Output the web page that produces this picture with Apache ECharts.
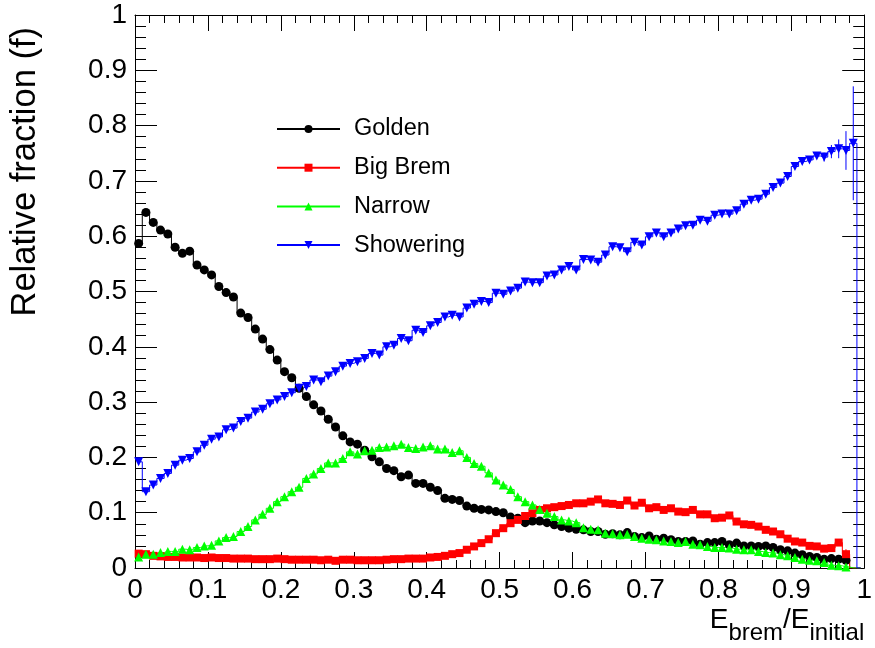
<!DOCTYPE html>
<html><head><meta charset="utf-8">
<script src="https://cdn.jsdelivr.net/npm/echarts@6/dist/echarts.min.js"></script>
<style>html,body{margin:0;padding:0;background:#fff}#c{width:875px;height:648px}</style>
</head><body><div id="c"></div>
<script>
// ---- data (100 bins of E_brem/E_initial, 0..1) ----
const nBins = 100, xMin = 0, xMax = 1;
const seriesNames = ['Golden', 'Big Brem', 'Narrow', 'Showering'];

const golden = [0.587,0.643,0.625,0.611,0.604,0.580,0.569,0.573,0.548,0.539,
0.530,0.509,0.498,0.490,0.461,0.453,0.432,0.414,0.395,0.376,
0.355,0.344,0.325,0.310,0.295,0.284,0.269,0.255,0.239,0.228,
0.224,0.213,0.201,0.192,0.180,0.176,0.165,0.168,0.153,0.153,
0.146,0.140,0.126,0.124,0.122,0.112,0.108,0.106,0.105,0.102,
0.100,0.092,0.090,0.082,0.085,0.085,0.082,0.078,0.075,0.072,
0.070,0.069,0.066,0.066,0.061,0.062,0.060,0.064,0.057,0.055,
0.058,0.052,0.054,0.051,0.048,0.048,0.049,0.043,0.046,0.046,
0.048,0.042,0.045,0.040,0.040,0.039,0.040,0.037,0.033,0.031,
0.027,0.024,0.021,0.019,0.016,0.017,0.016,0.014,0,0];

const bigBrem = [0.026,0.025,0.022,0.021,0.020,0.020,0.019,0.019,0.019,0.018,
0.019,0.018,0.018,0.017,0.017,0.017,0.016,0.016,0.016,0.017,
0.016,0.015,0.015,0.015,0.015,0.014,0.015,0.013,0.015,0.015,
0.014,0.014,0.014,0.014,0.015,0.016,0.016,0.017,0.017,0.017,
0.019,0.020,0.022,0.025,0.027,0.033,0.039,0.045,0.052,0.063,
0.072,0.081,0.087,0.094,0.099,0.105,0.108,0.110,0.112,0.114,
0.117,0.117,0.120,0.124,0.117,0.116,0.114,0.122,0.113,0.118,
0.108,0.110,0.105,0.108,0.102,0.101,0.105,0.097,0.097,0.090,
0.091,0.095,0.084,0.079,0.078,0.075,0.069,0.066,0.061,0.053,
0.048,0.046,0.040,0.039,0.035,0.036,0.046,0.025,0,0];

const narrow = [0.020,0.025,0.025,0.028,0.030,0.030,0.034,0.033,0.037,0.040,
0.041,0.049,0.055,0.057,0.066,0.075,0.087,0.097,0.108,0.120,
0.129,0.138,0.146,0.162,0.170,0.180,0.190,0.190,0.198,0.210,
0.206,0.212,0.213,0.218,0.219,0.221,0.224,0.218,0.216,0.219,
0.221,0.215,0.215,0.209,0.212,0.200,0.189,0.184,0.172,0.159,
0.150,0.142,0.129,0.120,0.114,0.106,0.099,0.093,0.087,0.085,
0.082,0.073,0.070,0.069,0.063,0.062,0.060,0.061,0.057,0.054,
0.052,0.051,0.049,0.048,0.046,0.048,0.043,0.042,0.039,0.037,
0.037,0.036,0.034,0.033,0.033,0.030,0.028,0.027,0.024,0.022,
0.019,0.016,0.014,0.013,0.010,0.005,0.004,0.002,0,0];

const showering = [0.192,0.138,0.150,0.162,0.171,0.186,0.195,0.198,0.210,0.222,
0.233,0.237,0.250,0.253,0.265,0.271,0.282,0.287,0.297,0.304,
0.310,0.317,0.325,0.328,0.340,0.337,0.347,0.355,0.365,0.370,
0.373,0.379,0.388,0.385,0.400,0.403,0.415,0.411,0.430,0.426,
0.438,0.444,0.454,0.457,0.454,0.470,0.477,0.482,0.480,0.497,
0.495,0.501,0.506,0.517,0.516,0.516,0.528,0.530,0.539,0.545,
0.539,0.558,0.557,0.553,0.566,0.581,0.579,0.572,0.589,0.584,
0.599,0.606,0.599,0.606,0.613,0.619,0.620,0.629,0.627,0.638,
0.640,0.640,0.646,0.658,0.665,0.667,0.676,0.688,0.696,0.708,
0.726,0.735,0.738,0.745,0.743,0.753,0.758,0.755,0.768,0];

// statistical errors visible beyond the markers (bins 94..98)
const errStartBin = 94;
const showeringErrTail = [0.008, 0.012, 0.017, 0.035, 0.103];
const bigBremErrTail   = [0, 0, 0.006, 0.009, 0];

const xTickLabels = ['0','0.1','0.2','0.3','0.4','0.5','0.6','0.7','0.8','0.9','1'];
const yTickLabels = ['0','0.1','0.2','0.3','0.4','0.5','0.6','0.7','0.8','0.9','1'];

// ---- build ----
const binW = (xMax - xMin) / nBins;
const centers = Array.from({length: nBins}, (_, i) => +(xMin + (i + 0.5) * binW).toFixed(4));
const FONT = "'Liberation Sans', Arial, Helvetica, sans-serif";

function toData(vals) {
  return vals.map((v, i) => v === 0 ? {value: [centers[i], 0], symbol: 'none'} : [centers[i], v]);
}
function errData(vals, tail) {
  return tail.map((e, k) => {
    const i = errStartBin + k;
    return [centers[i], vals[i] - e, vals[i] + e];
  }).filter(d => d[2] > d[1]);
}
function errSeries(name, vals, tail, color) {
  return {
    type: 'custom', name: name, data: errData(vals, tail), z: 1, silent: true,
    renderItem: function (params, api) {
      const a = api.coord([api.value(0), api.value(1)]);
      const b = api.coord([api.value(0), api.value(2)]);
      return {type: 'line', shape: {x1: a[0], y1: a[1], x2: b[0], y2: b[1]},
              style: {stroke: color, lineWidth: 1}};
    }
  };
}
function lineSeries(name, vals, color, symbol, size, rotate) {
  return {
    type: 'line', name: name, step: 'middle', data: toData(vals),
    symbol: symbol, symbolSize: size, symbolRotate: rotate || 0,
    showAllSymbol: true, z: 2,
    itemStyle: {color: color, borderWidth: 0},
    lineStyle: {color: color, width: 1},
    emphasis: {disabled: true}
  };
}

const fmt = arr => (v) => {
  const idx = Math.round(v * 10);
  return arr[idx] !== undefined ? arr[idx] : '';
};

const tickCommon = {show: true, inside: true, lineStyle: {color: '#000', width: 1}};
const option = {
  animation: false,
  backgroundColor: '#fff',
  textStyle: {fontFamily: FONT},
  grid: {left: 135, right: 7, top: 15, bottom: 80, containLabel: false},
  legend: {
    data: seriesNames, orient: 'vertical', left: 276, top: 117, padding: 0,
    itemWidth: 63, itemHeight: 10, itemGap: 14.7,
    textStyle: {fontSize: 23.5, lineHeight: 24, color: '#000', fontFamily: FONT, padding: [0, 0, 0, 9]},
    selectedMode: false
  },
  xAxis: [{
    type: 'value', min: 0, max: 1, interval: 0.1,
    name: '{m|E}{s|brem}{m|/E}{s|initial}', nameLocation: 'end', nameGap: 0, nameMoveOverlap: false,
    nameTextStyle: {align: 'right', verticalAlign: 'top', padding: [38, 0, 0, 0], color: '#000',
      rich: {m: {fontSize: 28, fontFamily: FONT, color: '#000', padding: [0, 0, 11, 0], verticalAlign: 'bottom'},
             s: {fontSize: 24, fontFamily: FONT, color: '#000', verticalAlign: 'bottom'}}},
    axisLine: {show: true, onZero: false, lineStyle: {color: '#000', width: 1}},
    axisTick: Object.assign({length: 16}, tickCommon),
    minorTick: {show: true, splitNumber: 5, length: 8, lineStyle: {color: '#000', width: 1}},
    axisLabel: {fontSize: 28, color: '#000', margin: 8, fontFamily: FONT, formatter: fmt(xTickLabels)},
    splitLine: {show: false}, minorSplitLine: {show: false}
  }, {
    type: 'value', min: 0, max: 1, interval: 0.1, position: 'top',
    axisLine: {show: true, onZero: false, lineStyle: {color: '#000', width: 1}},
    axisTick: Object.assign({length: 16}, tickCommon),
    minorTick: {show: true, splitNumber: 5, length: 8, lineStyle: {color: '#000', width: 1}},
    axisLabel: {show: false}, splitLine: {show: false}
  }],
  yAxis: [{
    type: 'value', min: 0, max: 1, interval: 0.1,
    name: 'Relative fraction (f)', nameLocation: 'end', nameRotate: 90, nameGap: -12, nameMoveOverlap: false,
    nameTextStyle: {fontSize: 34.5, lineHeight: 34.5, color: '#000', fontFamily: FONT,
      align: 'right', verticalAlign: 'bottom', padding: [0, 0, 92, 0]},
    axisLine: {show: true, onZero: false, lineStyle: {color: '#000', width: 1}},
    axisTick: Object.assign({length: 22}, tickCommon),
    minorTick: {show: true, splitNumber: 5, length: 11, lineStyle: {color: '#000', width: 1}},
    axisLabel: {fontSize: 28, color: '#000', margin: 8, fontFamily: FONT, padding: [8, 0, 0, 0], formatter: fmt(yTickLabels)},
    splitLine: {show: false}, minorSplitLine: {show: false}
  }, {
    type: 'value', min: 0, max: 1, interval: 0.1, position: 'right',
    axisLine: {show: true, onZero: false, lineStyle: {color: '#000', width: 1}},
    axisTick: Object.assign({length: 22}, tickCommon),
    minorTick: {show: true, splitNumber: 5, length: 11, lineStyle: {color: '#000', width: 1}},
    axisLabel: {show: false}, splitLine: {show: false}
  }],
  series: [
    errSeries('Big Brem errors', bigBrem, bigBremErrTail, '#ff0000'),
    errSeries('Showering errors', showering, showeringErrTail, '#0000ff'),
    lineSeries('Golden', golden, '#000000', 'circle', 9),
    lineSeries('Big Brem', bigBrem, '#ff0000', 'rect', 8),
    lineSeries('Narrow', narrow, '#00ff00', 'triangle', 9),
    lineSeries('Showering', showering, '#0000ff', 'triangle', 9, 180)
  ]
};
const chart = echarts.init(document.getElementById('c'), null, {renderer: 'canvas'});
chart.setOption(option);
</script>
</body></html>
